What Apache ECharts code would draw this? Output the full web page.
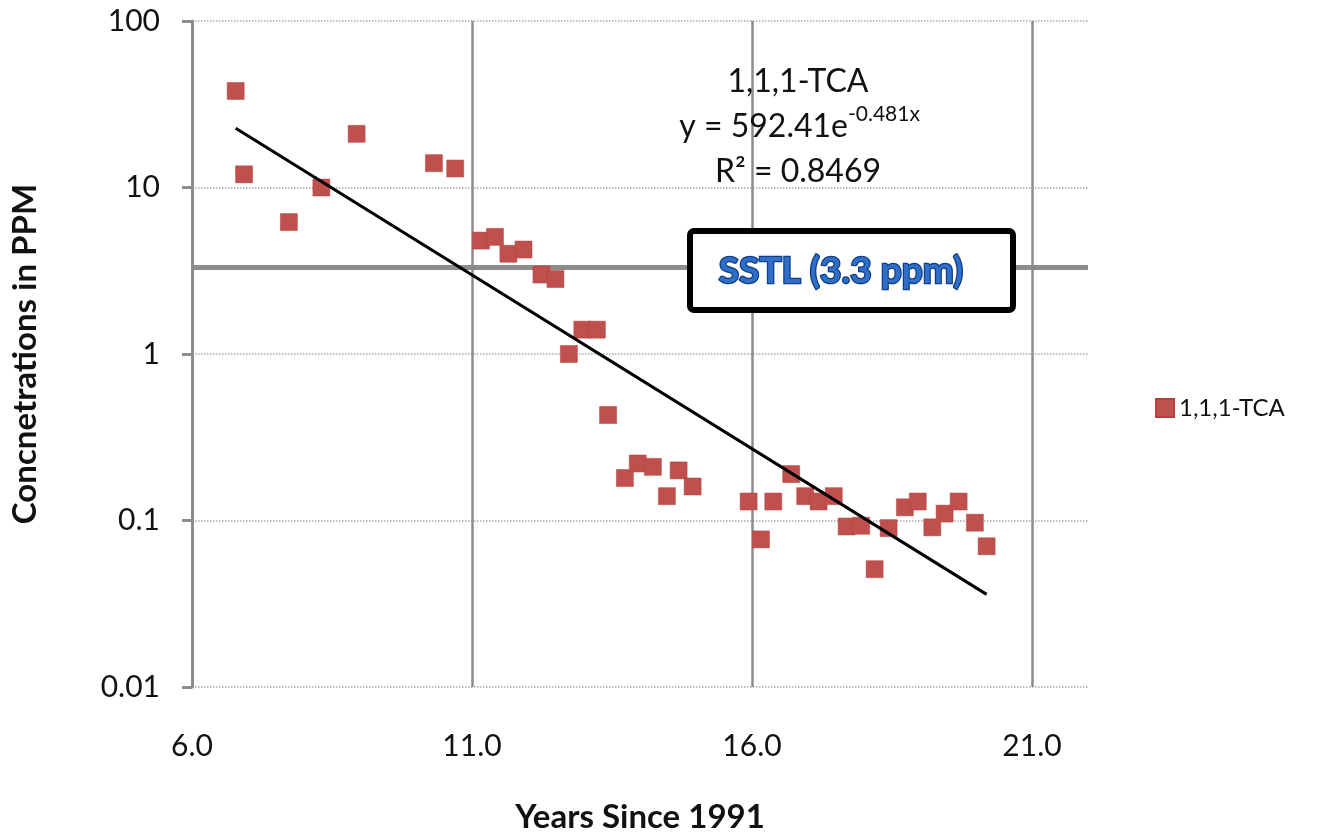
<!DOCTYPE html>
<html>
<head>
<meta charset="utf-8">
<script src="https://cdn.jsdelivr.net/npm/echarts@6/dist/echarts.min.js"></script>
<style>
  html, body { margin: 0; padding: 0; background: #fff; }
  #main { width: 1318px; height: 833px; }
</style>
</head>
<body>
<div id="main"></div>
<script>
// years since 1991 / concentration (ppm)
var tcaX = [6.78, 6.93, 7.73, 8.31, 8.94, 10.32, 10.70, 11.16, 11.41, 11.65, 11.92, 12.24, 12.49,
            12.73, 12.97, 13.23, 13.43, 13.73, 13.96, 14.23, 14.48, 14.69, 14.94,
            15.94, 16.16, 16.38, 16.70, 16.95, 17.19, 17.46, 17.69, 17.95, 18.19, 18.44,
            18.73, 18.96, 19.22, 19.44, 19.69, 19.98, 20.19];
var tcaY = [38.0, 12.0, 6.2, 10.0, 21.0, 14.0, 13.0, 4.8, 5.05, 4.0, 4.24, 3.0, 2.82,
            1.0, 1.4, 1.4, 0.43, 0.18, 0.22, 0.21, 0.14, 0.20, 0.16,
            0.13, 0.077, 0.13, 0.19, 0.14, 0.13, 0.14, 0.092, 0.093, 0.051, 0.09,
            0.12, 0.13, 0.091, 0.11, 0.13, 0.097, 0.07];
// fitted trend line end points (y = 592.41e^-0.481x)
var trendX = [6.78, 20.19];
var trendY = [22.7, 0.036];
var sstl = 3.3;
var xTicks = [6, 11, 16, 21];

var chart = echarts.init(document.getElementById('main'));

var scatterData = [];
for (var i = 0; i < tcaX.length; i++) {
    scatterData.push([tcaX[i], tcaY[i]]);
}
var trendData = [];
for (var j = 0; j < trendX.length; j++) {
    trendData.push([trendX[j], trendY[j]]);
}

var font = 'Lato';

var option = {
    animation: false,
    textStyle: { fontFamily: font },
    grid: { left: 192, right: 230, top: 21, bottom: 146, outerBoundsMode: 'none', containLabel: false },
    legend: {
        data: ['1,1,1-TCA'],
        left: 1150, top: 391,
        icon: 'rect', itemWidth: 18, itemHeight: 18, itemGap: 4,
        textStyle: { fontFamily: font, fontSize: 24, color: '#111' }
    },
    xAxis: {
        type: 'value', min: 6, max: 22,
        name: 'Years Since 1991', nameLocation: 'middle', nameGap: 114,
        nameTextStyle: { fontFamily: font, fontSize: 33, fontWeight: 'bold', color: '#111' },
        axisLine: { show: false },
        axisTick: { show: false, customValues: xTicks },
        axisLabel: {
            customValues: xTicks, margin: 44,
            fontFamily: font, fontSize: 30, color: '#111',
            formatter: function (v) { return v.toFixed(1); }
        },
        splitLine: { show: true, lineStyle: { color: '#8c8c8c', width: 2.5, type: 'solid' } }
    },
    yAxis: {
        type: 'log', logBase: 10, min: 0.01, max: 100,
        name: 'Concnetrations in PPM', nameLocation: 'middle', nameGap: 150,
        nameTextStyle: { fontFamily: font, fontSize: 33, fontWeight: 'bold', color: '#111' },
        axisLine: { show: true, lineStyle: { color: '#8c8c8c', width: 3 } },
        axisTick: { show: true, length: 10, lineStyle: { color: '#8c8c8c', width: 3 } },
        minorTick: { show: false },
        axisLabel: {
            margin: 32, fontFamily: font, fontSize: 30, color: '#111',
            formatter: function (v) { return String(parseFloat(v.toPrecision(3))); }
        },
        splitLine: { show: true, lineStyle: { color: '#a8a8a8', width: 1.5, type: 'dotted' } }
    },
    series: [
        {
            name: '1,1,1-TCA',
            type: 'scatter',
            symbol: 'rect',
            symbolSize: 17,
            itemStyle: { color: '#c0504d', opacity: 1, borderColor: '#b5403d', borderWidth: 0.5 },
            data: scatterData,
            z: 3
        },
        {
            name: 'trend',
            type: 'line',
            data: trendData,
            symbol: 'none',
            lineStyle: { color: '#000', width: 3 },
            z: 4,
            markLine: {
                silent: true,
                symbol: 'none',
                label: { show: false },
                lineStyle: { color: '#8c8c8c', width: 5, type: 'solid' },
                data: [{ yAxis: sstl }],
                z: 2
            }
        }
    ],
    graphic: [
        {
            type: 'text', z: 10,
            style: { text: '1,1,1-TCA', x: 798, y: 82, align: 'center', verticalAlign: 'middle',
                     font: '32px Lato', fill: '#111' }
        },
        {
            type: 'text', z: 10,
            style: { text: 'y = 592.41e', x: 848, y: 127, align: 'right', verticalAlign: 'middle',
                     font: '32px Lato', fill: '#111' }
        },
        {
            type: 'text', z: 10,
            style: { text: '-0.481x', x: 848, y: 114, align: 'left', verticalAlign: 'middle',
                     font: '21px Lato', fill: '#111' }
        },
        {
            type: 'text', z: 10,
            style: { text: 'R² = 0.8469', x: 798, y: 172, align: 'center', verticalAlign: 'middle',
                     font: '32px Lato', fill: '#111' }
        },
        {
            type: 'rect', z: 10,
            shape: { x: 690, y: 231, width: 323, height: 79, r: 4 },
            style: { fill: '#fff', stroke: '#000', lineWidth: 6 }
        },
        {
            type: 'text', z: 11,
            style: { text: 'SSTL (3.3 ppm)', x: 841, y: 271, align: 'center', verticalAlign: 'middle',
                     font: 'bold 37px Lato', fill: '#2f6fc8', stroke: '#0f3d86', lineWidth: 2.5,
                     shadowBlur: 4, shadowColor: 'rgba(40,80,150,0.5)', shadowOffsetY: 2 }
        }
    ]
};

chart.setOption(option);
</script>
</body>
</html>
